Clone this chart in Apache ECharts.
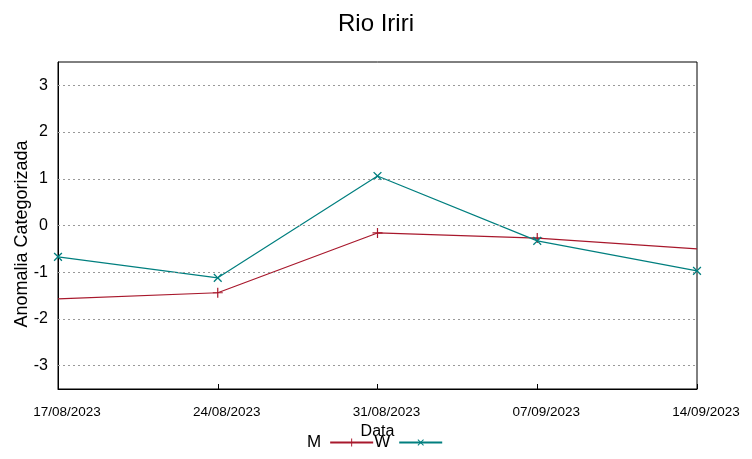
<!DOCTYPE html>
<html><head><meta charset="utf-8">
<script src="https://cdn.jsdelivr.net/npm/echarts@6/dist/echarts.min.js"></script>
<style>html,body{margin:0;padding:0;background:#fff}#c{width:752px;height:459px}</style>
</head><body><div id="c"></div>
<script>
var categories = ['17/08/2023','24/08/2023','31/08/2023','07/09/2023','14/09/2023'];
var seriesM = [-1.57, -1.44, -0.16, -0.27, -0.50];
var seriesW = [-0.67, -1.12, 1.06, -0.33, -0.97];
var yTicks = [-3, -2, -1, 0, 1, 2, 3];
var yAxisTitle = 'Anomalia Categorizada';

var red = '#a8182c', teal = '#007f7f';
var plus = 'path://M4.4,0h1.2v4.4h4.4v1.2h-4.4v4.4h-1.2v-4.4h-4.4v-1.2h4.4z';
var font = 'Liberation Sans, Arial, sans-serif';
var chart = echarts.init(document.getElementById('c'));
chart.setOption({
  animation: false,
  textStyle: {fontFamily: font},
  title: {text: 'Rio Iriri', left: 'center', top: 7, textStyle: {fontSize: 24, fontWeight: 'normal', color: '#000', fontFamily: font}},
  grid: {left: 58, right: 55, top: 62, bottom: 70, show: true, borderColor: '#000', borderWidth: 1, outerBoundsMode: 'none', containLabel: false},
  graphic: [{
    type: 'text', x: 22, y: 234, rotation: Math.PI / 2,
    style: {text: yAxisTitle, font: '18px Liberation Sans, Arial, sans-serif', fill: '#000', align: 'center', verticalAlign: 'middle'}
  }],
  legend: {
    bottom: 3, left: 302, align: 'right', itemWidth: 43, itemHeight: 10, itemGap: 0,
    textStyle: {fontSize: 17, color: '#000', fontFamily: font, padding: [0, 4, 0, 0]},
    data: ['M', 'W']
  },
  xAxis: {
    type: 'category', data: categories, boundaryGap: false,
    name: 'Data', nameLocation: 'middle', nameGap: 33,
    nameTextStyle: {fontSize: 16, color: '#000'},
    axisLine: {onZero: false, lineStyle: {color: '#000'}},
    axisTick: {inside: true, length: 5, lineStyle: {color: '#000'}},
    axisLabel: {fontSize: 13.5, color: '#000', margin: 16, showMinLabel: true, showMaxLabel: true, interval: 0, padding: [0, 0, 0, 18]},
    splitLine: {show: false}
  },
  yAxis: {
    type: 'value', min: -3.5, max: 3.5,
    axisLine: {show: true, lineStyle: {color: '#000'}},
    axisTick: {inside: true, length: 5, lineStyle: {color: '#000'}, customValues: yTicks},
    axisLabel: {fontSize: 16, color: '#000', margin: 10, customValues: yTicks},
    splitLine: {show: false}
  },
  series: [
    {
      name: 'M', type: 'line', data: seriesM.map(function(v, i){
        return (i === 0 || i === seriesM.length - 1) ? {value: v, symbol: 'none'} : v;
      }),
      symbol: plus, symbolSize: 10, showSymbol: true,
      lineStyle: {color: red, width: 1.2}, itemStyle: {color: red},
      markLine: {
        silent: true, symbol: 'none', label: {show: false},
        lineStyle: {color: '#999', type: [2, 3], width: 1},
        data: yTicks.map(function(t){ return {yAxis: t}; })
      }
    },
    {
      name: 'W', type: 'line', data: seriesW,
      symbol: plus, symbolRotate: 45, symbolSize: 11, showSymbol: true,
      lineStyle: {color: teal, width: 1.2}, itemStyle: {color: teal}
    }
  ]
});
</script></body></html>
